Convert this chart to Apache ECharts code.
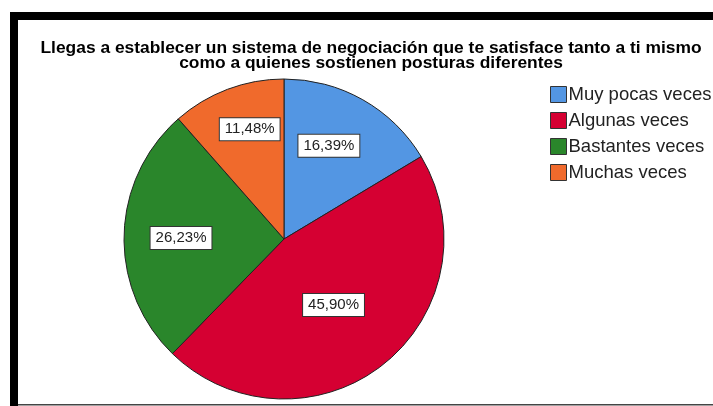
<!DOCTYPE html>
<html>
<head>
<meta charset="utf-8">
<script src="https://cdn.jsdelivr.net/npm/echarts@6/dist/echarts.min.js"></script>
<style>
  html, body { margin: 0; padding: 0; background: #fff; }
  #main { width: 713px; height: 406px; }
</style>
</head>
<body>
<div id="main"></div>
<script>
// datos del gráfico
const titleText = "Llegas a establecer un sistema de negociación que te satisface tanto a ti mismo\ncomo a quienes sostienen posturas diferentes";
const categories = ["Muy pocas veces", "Algunas veces", "Bastantes veces", "Muchas veces"];
const percents = [16.39, 45.90, 26.23, 11.48];

// estilos
const colors = ["#5396e3", "#d50032", "#2a862b", "#f06a2c"];
// desplazamiento de cada etiqueta respecto a la posición "inside"
const labelOffsets = [[4, -21], [-2, 1], [-20, 1], [-5, -32]];

const chartDom = document.getElementById("main");
const myChart = echarts.init(chartDom);

const option = {
  animation: false,
  backgroundColor: "#fff",
  title: {
    text: titleText,
    left: 366,
    top: 36,
    textAlign: "center",
    textStyle: {
      fontFamily: "Liberation Sans",
      fontWeight: "bold",
      fontSize: 17.4,
      lineHeight: 14.5,
      color: "#000"
    }
  },
  legend: {
    orient: "vertical",
    left: 545,
    top: 80,
    icon: "rect",
    itemWidth: 16,
    itemHeight: 16,
    itemGap: 7,
    data: categories,
    itemStyle: {
      borderColor: "#333",
      borderWidth: 1
    },
    textStyle: {
      fontFamily: "Liberation Sans",
      fontSize: 18.5,
      lineHeight: 18,
      color: "#222",
      padding: [0, 0, 0, -3]
    }
  },
  graphic: [
    // marco negro
    { type: "rect", shape: { x: 10, y: 12, width: 703, height: 8 }, style: { fill: "#000" } },
    { type: "rect", shape: { x: 10, y: 12, width: 8, height: 394 }, style: { fill: "#000" } },
    { type: "rect", shape: { x: 18, y: 404, width: 695, height: 1.5 }, style: { fill: "#444" } }
  ],
  series: [
    {
      type: "pie",
      center: [284, 239],
      radius: 160,
      startAngle: 90,
      clockwise: true,
      color: colors,
      itemStyle: {
        borderColor: "#222",
        borderWidth: 1
      },
      label: {
        show: true,
        position: "inside",
        formatter: p => p.value.toFixed(2).replace(".", ",") + "%",
        fontFamily: "Liberation Sans",
        fontSize: 15,
        color: "#222",
        backgroundColor: "#fff",
        borderColor: "#333",
        borderWidth: 1,
        padding: [4, 5, 3, 5]
      },
      emphasis: { disabled: true },
      data: categories.map((name, i) => ({
        name: name,
        value: percents[i],
        label: { offset: labelOffsets[i] }
      }))
    }
  ]
};

option && myChart.setOption(option);
</script>
</body>
</html>
